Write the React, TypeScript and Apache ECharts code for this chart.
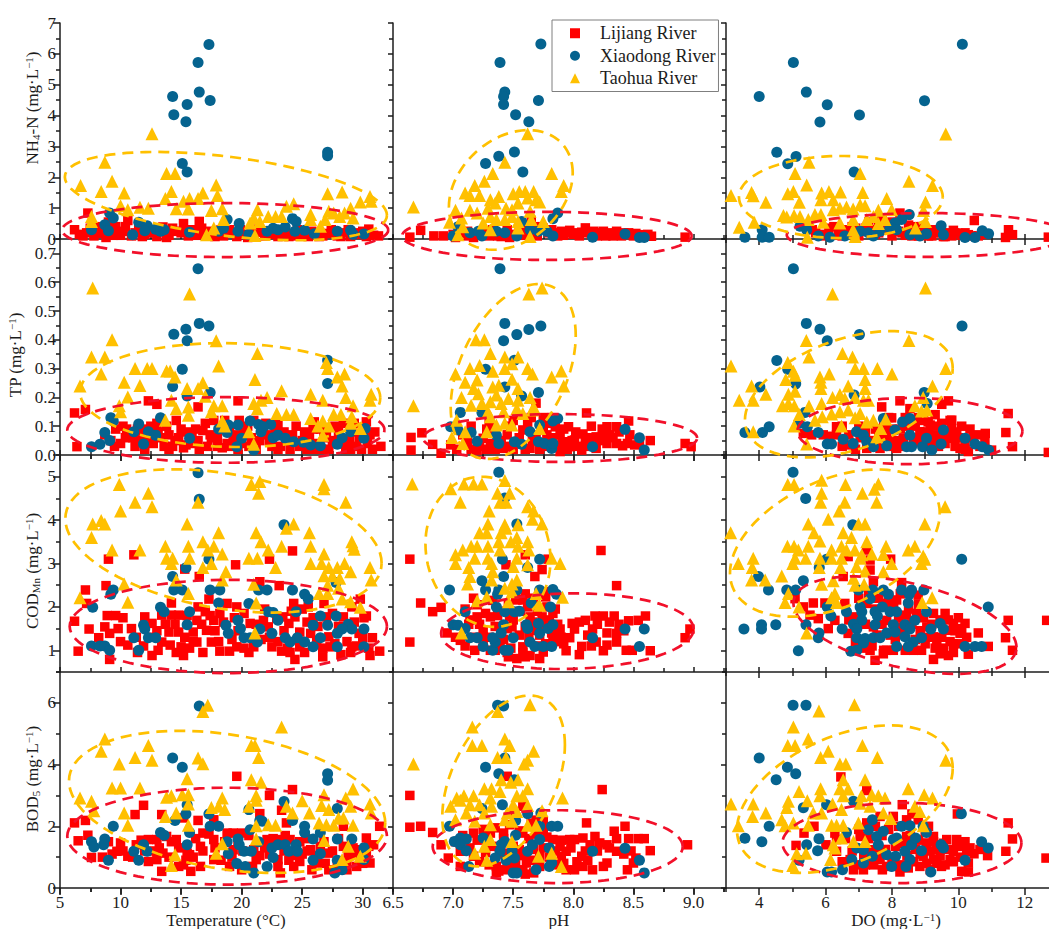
import React, { useEffect, useRef } from "react";
import * as echarts from "echarts";

type P = number[][];
const rivers = ["Lijiang River", "Xiaodong River", "Taohua River"];

const nh4TempRed: P = [[6.2,.3],[6.6,.15],[7.3,.84],[7.2,.2],[7.8,.1],[8.2,.4],[8.5,.18],[9,.55],[9.4,.12],[9.6,.4],[10.2,.25],[10.6,.6],[10.9,.1],[11.5,.3],[12,.15],[12.6,.2],[13,.08],[13.5,.39],[14,.12],[14.5,.25],[15.2,.5],[15.6,.1],[16,.3],[16.5,.57],[16.9,.15],[17.4,.1],[18,.2],[18.5,.1],[19,.3],[19.6,.08],[20.2,.15],[20.8,.25],[21.4,.32],[21.9,.1],[22.4,.15],[23,.08],[23.6,.2],[24.2,.1],[24.9,.15],[25.5,.08],[26.1,.2],[26.7,.1],[27.4,.3],[27.9,.1],[28.5,.2],[29,.08],[29.6,.15],[30.5,.32],[31.3,.1],[30.9,.12],[6.9,.1],[7.5,.35],[8,.25],[8.8,.05],[9.2,.3],[10,.12],[10.4,.4],[11.2,.2],[11.8,.08],[12.3,.3],[13.2,.25],[13.8,.05],[14.3,.35],[15,.2],[15.4,.3],[16.2,.12],[16.7,.35],[17.2,.25],[17.8,.08],[18.3,.3],[18.8,.2],[19.4,.2],[19.9,.3],[20.5,.05],[21,.1],[21.7,.22],[22.7,.25],[23.3,.18],[23.9,.08],[24.6,.3],[25.2,.15],[25.8,.25],[26.4,.08],[27.1,.18],[27.7,.2],[28.2,.08],[28.8,.3],[29.3,.2],[30,.25],[30.3,.08]];
const nh4TempBlue: P = [[17.3,6.3],[16.4,5.72],[16.5,4.76],[17.4,4.49],[14.3,4.62],[15.5,4.36],[14.4,4.03],[15.4,3.8],[15.1,2.45],[15.5,2.17],[27.1,2.81],[27.1,2.7],[9.1,.84],[9.4,.68],[8.7,.46],[9,.27],[7.6,.3],[11,.14],[11.5,.54],[12.2,.43],[12,.27],[12.9,.32],[13.3,.25],[13.6,.3],[15.7,.22],[18.1,.25],[18.8,.63],[18.5,.35],[19.8,.5],[19.7,.25],[20.6,.15],[22.1,.25],[22.6,.35],[23,.3],[23.6,.39],[24.2,.66],[24.5,.57],[24.4,.25],[25.2,.28],[26,.17],[27.9,.25],[29,.28],[29.2,.15],[30.1,.16]];
const nh4TempYellow: P = [[12.6,3.41],[8.7,2.49],[13.8,2.12],[14.5,2.12],[9.3,1.87],[6.7,1.73],[8.4,1.54],[10.3,1.49],[14.2,1.54],[13.7,1.31],[15.7,1.31],[16.8,1.49],[17.9,1.75],[18,1.41],[15.2,1.22],[16.4,1.31],[10,1.08],[10.6,.95],[11.6,1.03],[12.3,1],[14.6,.98],[15.6,.97],[17.5,.92],[18.4,.98],[7.6,.73],[7.6,.57],[18.5,.63],[17.7,.36],[17.1,.14],[21.3,.95],[21,.68],[21.5,.57],[20.7,.52],[22.2,.73],[22.8,.73],[23.3,.73],[23.7,1.06],[24.3,1.14],[25.7,.79],[25.7,.63],[27.1,1.47],[28.3,1.52],[30.6,1.38],[29.8,1.2],[30.7,1.22],[27.2,.9],[27.6,.84],[28.5,.84],[29,1],[29.2,.68],[26.9,.63],[26.5,.41],[28.1,.73],[21.1,.11]];

const nh4PhRed: P = [[6.64,.06],[6.73,.28],[6.84,.1],[6.92,.1],[8.93,.06],[7,.15],[7.1,.1],[7.2,.15],[7.3,.1],[7.4,.08],[7.5,.15],[7.55,.3],[7.6,.12],[7.7,.1],[7.75,.35],[7.8,.2],[7.85,.2],[7.9,.25],[7.95,.2],[8,.15],[8.05,.1],[8.1,.36],[8.15,.14],[8.2,.1],[8.25,.25],[8.3,.2],[8.36,.25],[8.4,.1],[8.46,.2],[8.5,.1],[8.55,.14],[8.65,.09],[7.65,.6],[7.25,.25],[7.65,.45],[7.02,.05],[7.12,.25],[7.17,.05],[7.27,.2],[7.33,.3],[7.37,.1],[7.45,.3],[7.47,.05],[7.57,.2],[7.62,.35],[7.67,.2],[7.72,.4],[7.82,.3],[7.87,.1],[7.92,.12],[7.97,.28],[8.02,.2],[8.07,.22],[8.12,.2],[8.17,.25],[8.22,.2],[8.27,.1],[8.33,.1],[8.42,.2],[8.48,.15],[8.52,.18],[8.58,.1],[8.62,.15]];
const nh4PhBlue: P = [[7.73,6.32],[7.39,5.72],[7.43,4.76],[7.42,4.62],[7.42,4.36],[7.71,4.49],[7.52,4.03],[7.63,3.8],[7.51,2.82],[7.38,2.68],[7.27,2.45],[7.58,2.17],[7.87,.84],[7.83,.66],[7,.1],[7.04,.4],[7.14,.2],[7.21,.25],[7.24,.1],[7.36,.25],[7.43,.2],[7.53,.1],[7.64,.3],[7.71,.25],[7.78,.25],[7.83,.1],[8.16,.06],[8.43,.16],[8.55,.05],[8.59,.05],[7.57,.57]];
const nh4PhYellow: P = [[7.62,3.41],[7.43,2.49],[7.82,2.12],[7.33,2.12],[7.26,1.87],[7.92,1.73],[7.18,1.73],[7.9,1.54],[7.1,1.49],[7.14,1.41],[7.22,1.41],[7.5,1.47],[7.55,1.54],[7.6,1.54],[7.67,1.54],[7.62,1.33],[7.69,1.27],[7.72,1.2],[7.31,1.27],[7.38,1.38],[7.35,1.17],[6.67,1.04],[7.02,.93],[7.14,.93],[7.29,1],[7.44,1],[7.54,1.17],[7.49,.95],[7.64,.9],[7.31,.73],[6.97,.54],[7.07,.68],[7.25,.52],[7.36,.63],[7.43,.63],[7.54,.57],[7.65,.63],[7.75,.57],[7.31,.3],[7.54,.36],[7.08,.4],[7.04,.14],[7.64,.08],[7.2,.84],[7.49,.73]];

const nh4DoRed: P = [[8.24,.84],[10.48,.6],[11.51,.3],[11.63,.14],[11.42,.05],[12.71,.06],[5.6,.3],[5.9,.15],[6.1,.35],[6.4,.25],[6.6,.3],[6.9,.35],[7.2,.35],[7.5,.15],[7.8,.5],[8,.1],[8.2,.25],[8.4,.12],[8.7,.3],[8.9,.2],[9.1,.3],[9.2,.1],[9.4,.25],[9.7,.2],[9.8,.1],[10,.18],[10.1,.12],[10.3,.14],[10.6,.1],[8.5,.45],[7.3,.55],[7.7,.6],[6.4,.12],[7,.1],[8.8,.1],[9.6,.08],[9.9,.2],[5.7,.2],[6,.1],[6.25,.4],[6.5,.1],[6.75,.2],[7.05,.25],[7.35,.3],[7.6,.2],[7.9,.3],[8.1,.4],[8.3,.2],[8.55,.3],[8.6,.1],[8.75,.4],[9,.25],[9.25,.2],[9.3,.3],[9.5,.2],[9.55,.08],[9.85,.28],[10.2,.2],[10.4,.1],[10.8,.15],[7.6,.4],[8,.55],[8.9,.4],[6.8,.4],[9.1,.1]];
const nh4DoBlue: P = [[10.12,6.31],[5.03,5.72],[4,4.62],[5.42,4.76],[6.05,4.35],[8.98,4.48],[7.02,4.02],[5.83,3.79],[4.53,2.81],[5.11,2.67],[4.86,2.44],[6.86,2.17],[3.57,.06],[4.09,.3],[4.09,.06],[4.3,.06],[9.48,.43],[9.55,.14],[10.72,.27],[10.91,.17],[10.2,.05],[10.5,.05],[8.52,.79],[8.29,.63],[8.09,.52],[9.04,.17],[8.84,.1],[8.54,.14],[5.23,.41],[5.43,.3],[5.78,.1],[6.13,.06],[6.58,.1],[7.04,.25],[7.29,.2],[7.64,.25],[7.94,.36],[7.44,.1],[8.14,.3]];
const nh4DoYellow: P = [[9.62,3.4],[5.5,2.49],[7.04,2.12],[5.08,2.12],[8.51,1.87],[9.22,1.73],[5.43,1.75],[3.15,1.41],[3.77,1.51],[3.82,1.4],[4.86,1.47],[5.03,1.54],[4.2,1.19],[5.21,1.19],[5.88,1.49],[5.86,1.27],[6.1,1.54],[6.45,1.52],[7.12,1.51],[6.23,1.27],[7.84,1.31],[9.01,1.2],[4.73,.76],[4.83,.71],[5.05,.76],[5.23,.73],[5.68,.79],[5.86,.79],[6.23,.95],[6.43,1],[6.63,1.04],[6.83,.97],[7.04,1.11],[7.19,1.08],[7.59,.93],[7.99,.95],[8.95,.92],[3.4,.38],[3.85,.54],[5.48,.63],[5.93,.54],[6.43,.52],[6.83,.3],[6.83,.63],[7.24,.63],[7.44,.73],[7.59,.5],[7.79,.63],[8.71,.36],[9.01,.57],[5.45,.06],[6.89,.08]];

const tpTempRed: P = [[6.2,.146],[7.1,.158],[6.4,.029],[12.3,.188],[13,.176],[16.4,.167],[19.7,.188],[8.7,.07],[9.2,.05],[9.6,.09],[10,.04],[10.4,.06],[10.8,.08],[11.2,.03],[11.7,.06],[12.2,.05],[12.7,.04],[13.1,.08],[13.6,.03],[14,.07],[14.5,.05],[15,.09],[15.4,.035],[15.9,.07],[16.4,.05],[16.8,.085],[17.2,.03],[17.7,.12],[18,.06],[18.4,.025],[18.8,.04],[19.3,.05],[19.8,.12],[20.2,.08],[20.6,.03],[21,.12],[21.5,.05],[22,.11],[22.5,.03],[23,.11],[23.5,.08],[24,.02],[24.5,.1],[25,.05],[25.4,.02],[25.9,.09],[26.3,.04],[26.8,.06],[27.2,.02],[27.7,.1],[28.2,.05],[28.6,.02],[29.1,.08],[29.5,.03],[30,.09],[30.4,.04],[31.5,.03],[30.8,.02],[12,.09],[13.3,.06],[14.8,.06],[16,.04],[17.5,.06],[19,.09],[20.8,.06],[22.2,.07],[23.7,.05],[25.2,.08],[26.5,.09],[28,.08],[29.7,.06],[11,.06],[15.5,.08],[9.5,.03],[10.5,.09],[11.4,.09],[12.5,.1],[13.8,.1],[14.3,.03],[15.2,.025],[16.2,.09],[17,.11],[17.4,.07],[18.2,.09],[19,.03],[19.5,.07],[20.5,.1],[21.2,.02],[21.8,.08],[22.8,.08],[23.2,.03],[24.2,.07],[24.8,.03],[25.6,.06],[26,.115],[26.6,.02],[27,.08],[27.5,.05],[28.4,.11],[28.9,.05],[29.3,.11],[29.9,.02],[30.6,.07],[31,.08],[10.2,.1],[13,.11],[14.6,.12],[18.6,.12],[20,.04],[22.3,.05],[12,.02],[14,.02],[16.5,.02],[18,.03],[19.7,.02],[23,.02],[26,.02],[29,.02],[30.3,.115]];
const tpTempBlue: P = [[16.4,.647],[16.5,.457],[17.3,.448],[15.4,.437],[14.4,.419],[15.5,.397],[15.1,.298],[14.3,.238],[17.4,.217],[27.1,.329],[27.1,.248],[15.5,.205],[9.2,.129],[9.4,.118],[11.5,.108],[13.3,.129],[7.6,.029],[8.3,.037],[8.7,.078],[9.1,.05],[11.1,.081],[12.3,.081],[12.9,.069],[11.9,.038],[15.7,.058],[18.1,.09],[18.9,.104],[18.8,.078],[19.7,.104],[20.7,.118],[20,.058],[19.6,.029],[21,.017],[21.4,.106],[21.6,.081],[22.4,.106],[21.8,.098],[22.6,.06],[23,.069],[23.6,.058],[24.3,.046],[25.1,.044],[25.7,.035],[26.5,.032],[27.9,.037],[28.3,.06],[29,.081],[30.1,.058],[30.2,.092]];
const tpTempYellow: P = [[7.7,.58],[15.7,.559],[9.3,.4],[17.9,.397],[7.6,.34],[8.7,.34],[21.3,.352],[18.1,.309],[8.4,.281],[11.2,.3],[12.2,.3],[12.6,.3],[13.8,.292],[14.1,.292],[14.5,.271],[6.65,.24],[10.3,.253],[11.6,.241],[15.5,.231],[16.4,.231],[16.8,.251],[21.1,.262],[27,.321],[27.1,.3],[28.5,.281],[27.9,.271],[28.3,.24],[23.3,.223],[25.7,.211],[30.7,.211],[10.6,.201],[17,.204],[14.2,.19],[22.1,.2],[21.6,.19],[28.6,.2],[26.7,.19],[30.6,.19],[9.9,.171],[21,.179],[14.6,.161],[15.6,.167],[17.7,.171],[18.4,.171],[29.2,.171],[10,.15],[15.6,.138],[17.5,.15],[21.3,.161],[22.9,.144],[23.7,.141],[24.3,.141],[25.7,.127],[27.6,.141],[28.2,.141],[29.1,.133],[13.7,.121],[18.4,.118],[18.6,.101],[26.7,.118],[26.3,.101],[27.2,.101],[29,.11],[29.8,.092],[20.6,.081],[26.7,.069],[21,.037]];

const tpPhRed: P = [[6.65,.061],[6.65,.017],[6.74,.077],[6.83,.037],[6.9,.006],[6.98,.035],[8.11,.146],[8.46,.118],[7.96,.098],[8.93,.04],[8.98,.029],[8.64,.05],[8.36,.098],[8.28,.098],[8.08,.073],[8.25,.069],[8.19,.063],[8.28,.04],[8.36,.04],[8.41,.032],[8.51,.035],[7.97,.029],[8.07,.017],[7.94,.046],[8.01,.052],[7.89,.069],[7.85,.098],[7.79,.127],[7.2,.017],[7.31,.04],[7.42,.023],[7.58,.087],[7.69,.069],[7.89,.012],[7.12,.046],[7.45,.07],[7.25,.058],[7.64,.023],[7.78,.07],[8.19,.023],[7.69,.18],[8.55,.04],[8.3,.07],[7.03,.02],[7.08,.07],[7.15,.02],[7.15,.1],[7.22,.03],[7.28,.02],[7.28,.09],[7.35,.02],[7.35,.08],[7.4,.05],[7.45,.03],[7.48,.1],[7.5,.02],[7.55,.06],[7.6,.02],[7.62,.11],[7.66,.05],[7.72,.02],[7.75,.09],[7.78,.03],[7.82,.06],[7.85,.035],[7.91,.04],[7.99,.05],[8.03,.03],[8.1,.03],[8.14,.06],[8.15,.1],[8.22,.05],[8.24,.09],[8.33,.06],[8.38,.08],[8.45,.04],[8.47,.07],[8.02,.08],[7.92,.09],[7.75,.13],[7.8,.11],[7.65,.13],[7.95,.02],[8.1,.05],[7.5,.12],[7.3,.11]];
const tpPhBlue: P = [[7.39,.647],[7.43,.457],[7.73,.448],[7.63,.436],[7.53,.418],[7.42,.397],[7.51,.329],[7.27,.298],[7.43,.236],[7.71,.217],[7.57,.205],[7.06,.148],[7.87,.127],[7.83,.118],[6.98,.098],[7.04,.087],[7.15,.078],[7.2,.048],[7.64,.081],[7.72,.104],[7.36,.069],[7.38,.04],[7.51,.046],[7.57,.037],[7.71,.046],[7.76,.04],[7.82,.023],[7.83,.04],[8.16,.029],[8.43,.089],[8.55,.06],[8.59,.017],[7.24,.148]];
const tpPhYellow: P = [[7.63,.559],[7.74,.58],[7.19,.4],[7.26,.4],[7.31,.352],[7.43,.34],[7.54,.34],[7.9,.292],[7.82,.271],[7.02,.281],[7.14,.3],[7.22,.311],[7.33,.291],[7.43,.3],[7.49,.317],[7.62,.3],[7.66,.281],[6.67,.171],[7.1,.253],[7.2,.26],[7.92,.24],[7.49,.263],[7.38,.242],[7.17,.231],[7.33,.236],[7.54,.231],[7.21,.213],[7.07,.2],[7.36,.208],[7.46,.196],[7.64,.2],[7.15,.173],[7.24,.179],[7.31,.185],[7.4,.179],[7.54,.19],[7.67,.167],[7.53,.161],[7.29,.15],[7.42,.15],[7.58,.144],[7.03,.121],[7.36,.104],[7.43,.11],[7.49,.104],[7.31,.133],[7.72,.092],[7.28,.081],[7.1,.081],[6.99,.061],[7.08,.04],[7.66,.156]];

const tpDoRed: P = [[11.5,.144],[11.43,.078],[11.63,.029],[12.71,.009],[10.81,.075],[10.35,.09],[9.8,.121],[8.24,.188],[9.5,.176],[9.7,.188],[7.69,.167],[8.54,.161],[7.99,.129],[9.15,.104],[9.8,.092],[9.85,.058],[10.05,.023],[10.3,.012],[9.35,.069],[8.84,.081],[8.34,.058],[7.84,.069],[7.64,.023],[8.14,.023],[7.24,.023],[6.74,.035],[6.33,.07],[6.33,.098],[5.93,.07],[5.58,.07],[5.33,.075],[6.12,.065],[7.04,.06],[7.54,.03],[7.94,.03],[8.74,.046],[9.15,.04],[9.6,.04],[9.95,.08],[10.2,.02],[10.8,.046],[11,.017],[9.09,.115],[6.5,.03],[6.5,.1],[6.7,.07],[6.9,.02],[7,.1],[7.2,.08],[7.35,.05],[7.5,.09],[7.6,.06],[7.75,.1],[7.9,.05],[8,.09],[8.15,.05],[8.25,.09],[8.4,.03],[8.5,.1],[8.65,.06],[8.7,.1],[8.85,.05],[8.95,.12],[9.05,.03],[9.1,.08],[9.25,.06],[9.3,.1],[9.4,.03],[9.5,.11],[9.55,.06],[9.7,.07],[9.75,.12],[9.9,.03],[10,.06],[10.1,.1],[10.2,.04],[10.45,.06],[10.6,.07],[10.65,.03],[7.9,.13],[8.4,.13],[8.8,.13],[9.3,.14]];
const tpDoBlue: P = [[5.03,.647],[5.42,.457],[5.83,.437],[7.02,.418],[6.05,.397],[10.11,.448],[4.53,.328],[4.86,.298],[4.02,.236],[5.1,.247],[6.86,.208],[8.97,.217],[9.06,.179],[5.38,.148],[3.57,.078],[4.1,.078],[4.3,.098],[5.21,.11],[5.45,.098],[5.78,.078],[6.05,.038],[6.18,.038],[6.53,.055],[6.83,.04],[6.93,.081],[7.14,.069],[7.24,.046],[7.44,.029],[7.74,.127],[7.84,.032],[8.09,.087],[8.32,.115],[8.54,.127],[8.54,.069],[8.44,.029],[8.59,.029],[8.92,.029],[9.04,.058],[9.2,.017],[9.48,.038],[9.55,.087],[10.2,.058],[10.5,.038],[10.72,.029],[10.91,.017]];
const tpDoYellow: P = [[3.15,.309],[9.01,.58],[6.21,.559],[5.42,.398],[8.51,.398],[6.51,.352],[6.81,.34],[5.5,.34],[4.86,.321],[6.89,.3],[7.14,.3],[7.56,.3],[9.62,.3],[8,.281],[6.11,.281],[5.03,.291],[5.08,.277],[5.83,.271],[4.8,.262],[7.19,.262],[5.86,.253],[3.77,.24],[6.68,.24],[9.22,.24],[5.86,.231],[7.19,.231],[5.08,.221],[4.88,.211],[4.2,.211],[3.4,.19],[3.82,.19],[6.21,.2],[6.89,.2],[6.43,.21],[6.58,.196],[7.14,.19],[7.29,.19],[8.94,.2],[4.7,.171],[4.88,.179],[5.06,.171],[5.5,.17],[5.88,.179],[8.69,.171],[9.05,.156],[8.89,.153],[5.21,.141],[5.68,.121],[5.9,.133],[6.18,.142],[6.43,.15],[6.68,.156],[6.89,.129],[7.04,.144],[7.24,.115],[7.44,.121],[7.81,.125],[7.66,.092],[7.54,.063],[6.48,.101],[5.05,.101],[3.82,.081],[5.43,.038]];

const codTempRed: P = [[9,3.1],[11.1,3.2],[24.2,3.29],[22.3,3.1],[19.5,2.97],[15.3,2.87],[16.5,2.7],[8.8,2.49],[7.1,2.39],[21.5,2.58],[23.1,2.49],[7.2,2.08],[14.2,2.09],[17.3,2.18],[29.8,2.18],[6.2,1.67],[7.4,1.49],[6.5,.98],[8.2,1.29],[31.4,.98],[30.6,.88],[24.4,.79],[9.1,.79],[12.6,.88],[15.2,.88],[18.2,.98],[19,.98],[23.3,.98],[8.9,1.8],[9.6,1.8],[8.7,1.54],[9.1,1.39],[9.8,1.5],[10.9,1.5],[10.6,1.12],[12,1.77],[12.6,1.62],[13.4,1.81],[14,1.42],[13.4,1.19],[14.2,1.81],[14.8,1.81],[14.8,1.42],[14.1,1.12],[15,1.08],[16,1.42],[16.3,1.19],[16.3,1.69],[17,1.89],[17.7,1.69],[17.5,1.19],[17.1,1.46],[16.4,2],[18.8,2.08],[18.2,1.85],[19.6,2],[20.2,1.85],[20.7,1.62],[21.8,1.69],[22.2,1.54],[21,1.08],[22.5,1.08],[23.4,1.77],[23.9,1.62],[24.4,1.77],[24.8,1.42],[25.5,2],[24.3,2.08],[25.4,1.65],[25.7,1.39],[26.8,2.08],[27,1.77],[27.2,1.31],[28.4,1.77],[29.1,2],[30.3,1.79],[29.7,1.39],[30.8,1.29],[29.1,1.08],[27.3,1.08],[24.8,1.08],[26.2,1.23],[19.6,1.08],[16,1.2],[10,1.2],[10.2,1.75],[11.3,1.3],[11.4,.95],[11.9,1.1],[12.4,1.3],[13,1.45],[13.1,1],[13.7,1.6],[14.5,1.6],[14.6,.95],[15.3,1.3],[15.5,1.8],[15.7,1.05],[16.7,1.6],[16.8,.95],[17.4,1.8],[17.8,1.45],[18.1,1.2],[18.5,1.65],[19.2,1.25],[19.4,1.75],[19.7,1.45],[20.2,1.05],[20.6,.95],[21.2,1.6],[21.6,1.25],[21.9,1.95],[22.3,1.3],[22.9,1.75],[23,1.2],[23.5,1.45],[23.8,1.05],[24.1,1.9],[25,1.95],[25.2,.95],[25.9,1.75],[26.3,1.55],[26.7,1.05],[27.5,1.85],[27.7,1.15],[28,1.55],[28.7,1.2],[29.3,1.65],[29.5,1.1],[30,1.3],[30.1,1.75],[30.5,1.05],[29,.95],[28.2,.9],[26.7,.85],[24,.95]];
const codTempBlue: P = [[16.4,5.09],[16.5,4.48],[23.5,3.89],[17.3,3.1],[15.4,2.9],[14.3,2.7],[27.8,2.56],[9.4,2.39],[9.2,2.29],[14.4,2.39],[15.1,2.39],[17.4,2.39],[18.2,2.39],[21.4,2.39],[22.1,2.39],[24.2,2.39],[25.2,2.29],[25.5,2.18],[7.7,1.99],[13.3,1.99],[13.6,1.89],[18.1,2.09],[20.6,2.08],[15.7,1.89],[22.2,1.89],[22.6,1.87],[24.5,1.89],[26.5,1.79],[27.8,1.79],[23,1.69],[11.9,1.58],[12,1.49],[15.5,1.59],[18.7,1.58],[18.9,1.39],[19.7,1.69],[19.9,1.5],[21.5,1.49],[22.5,1.39],[25.9,1.58],[27.1,1.58],[28.8,1.6],[29.1,1.49],[30.1,1.49],[28.3,1.49],[27.9,1.39],[11.1,1.29],[12.3,1.29],[12.9,1.29],[20.2,1.29],[20.7,1.29],[23.6,1.29],[24.6,1.29],[26.5,1.29],[24,1.19],[25.2,1.19],[21.3,1.19],[7.6,1.1],[8.3,1.1],[8.7,1.1],[9.1,1],[11.5,1],[25.9,1.08],[27.9,1.08],[30.1,1.08]];
const codTempYellow: P = [[9.9,4.82],[12.3,4.62],[11.2,4.41],[12.6,4.31],[10,4.21],[16.4,4.41],[20.8,4.82],[21.5,4.89],[21.4,4.62],[26.8,4.82],[26.8,4.72],[28.6,4.41],[7.7,3.91],[8.4,3.99],[8.7,3.91],[7.6,3.6],[15.5,3.91],[18.1,3.71],[21.2,3.71],[21.6,3.5],[23.7,3.81],[24.3,3.91],[25.6,3.71],[29.1,3.5],[29.2,3.41],[29.3,3.33],[9.3,3.31],[11.6,3.31],[13.7,3.4],[15.6,3.4],[16.8,3.5],[17.7,3.4],[17.2,3.31],[22.2,3.31],[23.3,3.4],[25.7,3.4],[26.8,3.22],[13.8,3.12],[14.3,3.12],[15.7,3.12],[18.4,3.22],[20.6,3.12],[21.3,3.12],[14.2,3],[17.5,3],[16.8,2.91],[22.8,2.91],[25.7,3],[26.6,3],[28.5,3],[27.2,2.91],[27.9,2.91],[30.6,2.91],[18.7,2.81],[29,2.81],[26.8,2.72],[27.5,2.72],[28.1,2.66],[30.7,2.62],[14.6,2.62],[18.4,2.62],[10.3,2.53],[21,2.52],[27.1,2.5],[28,2.43],[26.4,2.31],[27.1,2.31],[15.6,2.31],[6.65,2.21],[10.6,2.11],[28.3,2.18],[29,2.12],[29.8,1.99],[21.2,2.09],[21.1,1.4]];

const codPhRed: P = [[6.64,3.1],[6.64,1.19],[6.73,2.09],[6.83,1.89],[6.9,1.99],[8.23,3.3],[8.36,2.49],[7.94,.99],[8.05,.9],[8.64,.99],[8.97,1.49],[8.93,1.29],[6.95,1.4],[8.6,1.79],[8.54,1.69],[8.46,1.68],[8.34,1.79],[8.18,1.79],[8.25,1.79],[8.1,1.69],[7.99,1.62],[8.01,1.49],[8.16,1.49],[8.28,1.4],[8.36,1.39],[8.19,1.19],[8.28,1.12],[8.25,.99],[8.44,1],[8.49,1],[8.36,1.19],[8.07,1.09],[7.97,1.29],[7.89,1.49],[7.68,2.7],[7.74,2.86],[7.6,3.2],[7.44,2.97],[7.79,3.1],[7.17,2.2],[7.58,2.16],[7.77,2.23],[7.83,1.85],[7.2,1.77],[7.31,1.77],[7.47,1.77],[7.64,1.77],[7.74,1.77],[7.25,1.46],[7.49,1.54],[7.69,1.46],[7.06,1.23],[7.18,1],[7.46,.85],[7.53,.81],[7.64,.88],[7.72,.81],[7.75,.96],[7.58,1.08],[7.39,1.23],[7.31,1],[7.25,1.31],[7.83,1.31],[7.53,2.16],[7.1,1.95],[7.14,1.7],[7.02,1.3],[7.1,1.1],[7.13,1.6],[7.17,1.3],[7.2,2.05],[7.22,1.6],[7.25,1.1],[7.27,1.85],[7.3,1.3],[7.33,2.15],[7.35,1.55],[7.37,1.8],[7.38,1.05],[7.4,1.9],[7.42,1.25],[7.45,1.5],[7.46,2.05],[7.48,1.05],[7.5,1.7],[7.52,2.25],[7.55,1.35],[7.56,1.9],[7.58,.95],[7.6,1.55],[7.62,2],[7.63,1.3],[7.66,1.65],[7.67,2.2],[7.7,1.1],[7.7,1.9],[7.72,1.35],[7.75,1.6],[7.77,1.15],[7.78,2],[7.8,1.7],[7.82,1.4],[7.85,1.2],[7.87,1.6],[7.9,1.3],[7.92,1.15],[7.85,1.95],[7.75,2.35],[7.6,2.3],[7.35,1],[7.45,.95],[7.6,.85],[8.05,1.65],[8.2,1.6],[8.3,1.65],[8.42,1.45],[8.38,1.6],[8.15,1.1],[8.12,1.35]];
const codPhBlue: P = [[7.38,5.1],[7.43,4.51],[7.53,3.91],[7.41,3.1],[7.72,3.1],[7.62,2.91],[7.42,2.7],[7.24,2.6],[6.97,2.39],[7.27,2.39],[7.38,2.39],[7.53,2.39],[7.72,2.39],[7.83,2.4],[7.86,2.29],[7.37,2.29],[7.81,2],[7.36,2],[7.43,1.89],[7.51,1.89],[7.55,1.9],[7.65,2.09],[7.1,1.89],[7,1.59],[7.04,1.58],[7.1,1.5],[7.14,1.29],[7.2,1.29],[7.25,1.09],[7.33,1],[7.35,1.19],[7.33,1.29],[7.4,1.4],[7.42,1.59],[7.43,1],[7.46,1],[7.5,1.29],[7.61,1.59],[7.64,1.19],[7.68,1.09],[7.62,1.5],[7.71,1.62],[7.72,1.39],[7.75,1.09],[7.82,1.09],[7.79,1.5],[7.83,1.59],[8.16,1.29],[8.43,1.49],[8.59,1.49],[8.55,1.09]];
const codPhYellow: P = [[6.66,4.83],[7.09,4.83],[7.17,4.83],[7.24,4.83],[6.98,4.72],[7.43,4.91],[7.37,4.62],[7.47,4.62],[7.39,4.41],[7.44,4.41],[7.06,4.41],[7.62,4.31],[7.67,4.21],[7.3,4.21],[7.66,4.02],[7.74,3.91],[7.29,3.91],[7.43,3.89],[7.54,3.89],[7.22,3.71],[7.28,3.71],[7.4,3.71],[7.44,3.81],[7.53,3.6],[7.38,3.5],[7.48,3.5],[7.62,3.5],[7.15,3.4],[7.2,3.4],[7.29,3.4],[7.54,3.4],[7.39,3.31],[7.63,3.31],[7.08,3.31],[7.02,3.2],[7.18,3.12],[7.29,3.12],[7.53,3.12],[7.82,3.12],[7.02,3],[7.32,3],[7.89,3],[7.62,2.97],[7.5,2.93],[7.13,2.91],[7.33,2.81],[7.14,2.7],[7.32,2.62],[7.53,2.62],[7.12,2.53],[7.49,2.53],[7.43,2.43],[7.49,2.35],[7.28,2.23],[7.2,2.14],[7.46,2.12],[7.69,2.31],[7.91,2.22],[7.72,2.04],[7.07,1.4]];

const codDoRed: P = [[12.66,1.69],[11.5,1.69],[11.42,1.29],[11.63,1],[10.6,1.4],[10.9,1.09],[10.3,.91],[9.25,.79],[7.49,.77],[5.33,2],[5.63,2.09],[5.08,2.19],[5.98,2.09],[5.53,1.81],[5.78,1.73],[6.28,1.69],[6.08,1.5],[6.53,2.7],[6.68,3.16],[7.24,3.31],[7.34,3.08],[7.96,3.1],[7.34,2.85],[7.44,2.58],[8.29,2.56],[8.79,2.27],[8.14,2.16],[7.84,2.08],[7.24,2.08],[6.58,2.08],[6.84,1.77],[6.68,1.39],[7.34,1],[7.74,.92],[7.44,1.54],[7.84,1],[8.14,1.54],[8.74,1.85],[9.25,1.85],[9.6,1.85],[9.85,1.62],[10.2,1.62],[10.05,1.39],[8.89,1],[9.35,1.19],[9.45,.92],[9.7,.88],[9.05,1.54],[9.65,1.46],[9.85,1.15],[9.25,1.31],[8.04,1],[8.44,1.81],[7.84,1.69],[6.7,1.7],[6.9,1.2],[7,2.2],[7.1,1.05],[7.2,1.6],[7.3,2.3],[7.4,1.1],[7.5,1.95],[7.55,1.35],[7.6,2.2],[7.7,1.6],[7.75,1],[7.9,2.25],[7.95,1.35],[8.05,2.05],[8.1,1.25],[8.2,1.75],[8.25,2.3],[8.35,1.4],[8.4,1],[8.5,1.95],[8.6,1.6],[8.65,1],[8.7,1.25],[8.8,2.05],[8.85,1.45],[8.95,1.75],[9,1.15],[9.1,1.3],[9.2,1.6],[9.3,1.05],[9.45,1.7],[9.5,1.3],[9.55,1.05],[9.7,1.7],[9.75,1.2],[9.9,1.45],[10,1.75],[10,1.15],[10.1,1.5],[10.25,1.3],[9.85,.95]];
const codDoBlue: P = [[5.02,5.1],[5.4,4.5],[6.82,3.89],[10.1,3.1],[6.03,3.1],[5.81,2.91],[3.98,2.7],[5.33,2.6],[4.28,2.39],[4.83,2.39],[5.1,2.39],[6.99,2.39],[7.42,2.39],[7.74,2.39],[8.29,2.39],[8.59,2.39],[8.96,2.39],[7.89,2.29],[8.52,2.29],[7.34,2.19],[8.49,2.09],[10.9,2],[6.05,2],[7.04,2],[7.71,2],[6.63,1.89],[7.09,1.89],[7.49,1.89],[7.94,1.89],[8.14,1.89],[9.04,1.89],[6.16,1.79],[7.56,1.79],[7.09,1.69],[8.69,1.69],[5.41,1.59],[6.84,1.6],[7.49,1.59],[8.04,1.59],[8.39,1.59],[9.45,1.62],[3.54,1.49],[4.07,1.59],[4.07,1.49],[4.5,1.59],[6.5,1.49],[6.94,1.49],[7.84,1.4],[8.09,1.42],[8.54,1.49],[9.17,1.49],[9.55,1.49],[5.8,1.4],[5.78,1.29],[6.94,1.29],[7.19,1.27],[7.44,1.29],[7.64,1.29],[8.39,1.31],[8.89,1.29],[8.64,1.19],[7.14,1.17],[8.14,1.09],[8.49,1.09],[10.2,1.09],[10.5,1.09],[10.7,1.09],[6.76,.98],[6.94,1],[5.18,.99]];
const codDoYellow: P = [[3.14,3.71],[4.86,4.82],[5.05,4.82],[5.88,4.92],[6.6,4.82],[7.59,4.83],[7.47,4.71],[5.88,4.62],[7.11,4.62],[5.85,4.41],[6.58,4.41],[7.54,4.41],[6.41,4.21],[9.6,4.31],[6.08,4.02],[5.48,3.91],[6.99,3.91],[7.19,3.91],[8.99,3.91],[5.65,3.71],[6.53,3.71],[6.78,3.6],[5.83,3.52],[7.24,3.5],[4.85,3.4],[5.05,3.4],[5.48,3.4],[6.48,3.4],[7.82,3.4],[8.69,3.4],[6.18,3.31],[5.18,3.31],[6.63,3.31],[6.88,3.31],[8.49,3.31],[7.39,3.22],[7.09,3.2],[7.74,3.21],[8.94,3.17],[3.82,3.12],[5.08,3.12],[5.4,3.12],[5.83,3.12],[6.18,3.12],[6.48,3.12],[7.04,3.12],[8.99,3.1],[3.37,3],[5.01,3],[7.99,3],[8.89,3],[3.79,2.91],[5.81,2.91],[6.45,2.91],[6.93,2.93],[7.19,2.83],[7.74,2.81],[4.68,2.71],[3.77,2.62],[4.18,2.62],[6.23,2.6],[6.84,2.66],[5.88,2.52],[6.89,2.5],[7.16,2.52],[4.88,2.31],[6.28,2.31],[6.18,2.21],[9.21,2.21],[4.78,2.1],[6.33,2.1],[8.91,2.1],[5.2,2],[5.43,1.4]];

const bodTempRed: P = [[19.6,3.62],[24.2,3.19],[22.3,3],[11.9,2.68],[11.2,2.38],[23.3,2.52],[7.1,2.19],[6.2,2.11],[13.4,2.38],[16.4,2.19],[17.7,2.21],[21.5,2.41],[23.7,2.11],[31.4,2],[15.2,2.27],[7.3,1.71],[6.5,1.53],[28.4,2],[30.3,1.62],[7.6,.99],[9.7,1.19],[10.6,1.03],[10,1.46],[12.3,1.57],[11.3,1.4],[13,1.57],[13.8,1.67],[14.6,1.57],[12.3,.86],[13,.92],[13.4,.54],[14.8,.7],[15.8,.54],[15.7,1.08],[16.6,1.35],[16.8,1.78],[17.7,1.57],[16.6,.7],[17.7,.92],[18.8,1.78],[19.3,1.78],[20,1.78],[19,.7],[20,.59],[21.2,.92],[22.1,1.57],[23.2,1.57],[23.2,.49],[23,.92],[24,1.57],[24.3,.7],[24.8,.86],[25.8,.59],[25.7,1.24],[26.5,1.35],[27.2,.59],[27.2,1.13],[28.4,1.35],[28.7,.59],[29.5,.7],[30.6,.81],[30.9,1.4],[29.8,1.24],[28.7,.86],[21,1.24],[13.5,1.13],[15.5,1.13],[19.3,1.24],[26.2,.81],[8.5,1],[9,1.5],[9.3,1.1],[10.2,1.2],[11,1],[11.7,1.55],[12,1.2],[12.8,1.2],[13.2,1.3],[14,1],[14.2,1.5],[14.8,1.3],[15.2,.75],[16,1],[16.2,1.6],[16.8,1.2],[17.3,1.75],[17.8,1.3],[18.3,.9],[18.6,1.5],[19.2,1],[19.7,1.5],[20.1,1.2],[20.6,1.7],[20.9,.7],[21.5,1.05],[21.9,1.3],[22.3,1.1],[22.6,1.6],[23,.7],[23.5,1.2],[23.9,.9],[24.5,1.05],[24.8,1.5],[25,1.1],[25.4,1.2],[26.1,1.05],[26.8,1.5],[26.9,.8],[27.5,1.2],[27.9,.7],[28,1.6],[28.8,1.05],[29.2,1.3],[29.5,1.1],[30,.8],[30.3,1.1],[30.5,1.35],[15.4,.9],[23.6,1.7],[25.3,1.6]];
const bodTempBlue: P = [[16.5,5.9],[14.3,4.21],[15.1,3.91],[27.1,3.7],[27.1,3.49],[23.5,2.8],[15.5,2.7],[15.4,2.4],[27.9,2.58],[17.3,2.4],[20.6,2.54],[14.5,2.19],[21.5,2.19],[21.7,2.16],[24.2,2.19],[25.2,2],[17.4,2],[18.1,2],[9.4,2],[13.3,1.8],[13.6,1.71],[15.7,1.8],[20.7,1.89],[25.2,1.8],[26.5,1.8],[25.9,1.59],[27.9,1.59],[29.1,1.59],[8.7,1.59],[7.6,1.5],[8.6,1.4],[7.8,1.33],[11.9,1.4],[15.5,1.4],[18.8,1.5],[19.7,1.59],[19.8,1.4],[11.1,1.19],[12.2,1.19],[21.4,1.5],[22.5,1.3],[23,1.4],[23.6,1.4],[23.9,1.19],[24.5,1.4],[24.6,1.19],[18.9,1.11],[20.2,1.19],[20.8,1.19],[22.6,.99],[26.5,1.11],[30.1,1.3],[11.5,.9],[9,.9],[25.9,.9],[27.9,.9],[30.1,.92],[19.6,.79],[20.3,.7],[22.1,.7],[21,.49],[27.7,.49],[28.3,.59]];
const bodTempYellow: P = [[17.2,5.92],[16.8,5.72],[23.3,5.22],[8.7,4.83],[8.4,4.43],[12.3,4.62],[16.4,4.21],[11.2,4.23],[12.6,4.14],[16.8,4.03],[9.9,4.02],[20.8,4.62],[21.1,4.62],[21.4,4.23],[15.5,3.54],[9.3,3.24],[10,3.24],[11.6,3.24],[20.8,3.51],[21.6,3.43],[29.2,3.21],[14.2,2.99],[13.8,2.94],[15.1,3.02],[15.6,3.02],[6.65,2.92],[7.6,2.81],[18.4,2.92],[21.2,2.99],[21.2,2.84],[26.8,3.02],[25,2.83],[28.6,2.92],[15.6,2.72],[17.5,2.61],[18.1,2.65],[20.6,2.65],[23.7,2.65],[26.6,2.67],[29,2.65],[30.6,2.72],[7.8,2.5],[18.6,2.54],[27.2,2.54],[10.3,2.43],[14.6,2.43],[13.7,2.32],[24.2,2.43],[25.6,2.43],[30.7,2.43],[28,2.27],[28.4,2.27],[26.4,2.11],[27,2.05],[10.6,2.03],[15.6,2.03],[21.2,2.02],[22.2,2.05],[22.8,2.03],[27.6,2.03],[29.2,2.03],[21.2,1.59],[26.8,1.54],[18.4,1.43],[28.8,1.35],[14.5,1.08],[17.9,1.13],[29.8,1.03],[28.3,.92],[14.2,.73]];

const bodPhRed: P = [[6.64,3],[6.64,1.97],[6.73,2],[6.83,1.8],[8.24,3.19],[7.45,3.62],[8.11,2.11],[6.9,1.4],[6.96,.97],[7.06,.7],[8.95,1.4],[8.64,1.21],[8.59,1.6],[8.54,1.6],[8.43,2],[8.34,1.84],[8.46,1.6],[8.18,1.67],[8.28,1.4],[8.22,1.46],[8.08,1.62],[8.14,1.4],[7.97,1.57],[8.01,1.57],[8.25,.7],[8.28,.81],[8.16,.59],[8.45,.59],[8.5,.81],[8.52,.97],[8.36,1.19],[8.07,1.03],[8.01,.59],[7.94,.59],[7.94,1.19],[7.9,1.03],[7.83,1.57],[7.36,.49],[7.42,.59],[7.36,.7],[7.58,.59],[7.67,.49],[7.58,2.65],[7.69,2.2],[7.58,1.78],[7.75,1.89],[7.17,1.78],[7.31,1.78],[7.42,1.78],[7.17,1.03],[7.28,1.46],[7.55,1.24],[7.61,.81],[7.72,1.03],[7.89,1.35],[7.06,1.19],[7.45,1.13],[7.02,1.5],[7.08,1.7],[7.14,1.3],[7.2,1.55],[7.22,.85],[7.25,1.9],[7.27,1.15],[7.3,.75],[7.33,1.35],[7.35,1.95],[7.38,.55],[7.4,1.1],[7.42,1.6],[7.45,.7],[7.47,2.05],[7.5,1.35],[7.52,.75],[7.55,1.85],[7.58,1.05],[7.6,.45],[7.63,1.6],[7.65,.9],[7.67,1.25],[7.7,1.75],[7.72,.7],[7.75,1.3],[7.78,1.65],[7.8,1],[7.85,1.2],[7.87,.75],[7.9,1.55],[7.92,.8],[7.98,1.3],[8.03,.85],[8.1,1.2],[8.12,.9],[8.2,1.2],[8.3,1.3],[8.36,1.6],[8.42,1.1],[8.48,1.2],[8.08,.7],[7.65,2.1],[7.5,2.4],[7.75,2.15]];
const bodPhBlue: P = [[7.37,5.92],[7.42,5.9],[7.43,4.21],[7.27,3.91],[7.38,3.7],[7.51,3.51],[7.41,2.7],[7.24,2.58],[7.62,2.41],[7.73,2.43],[7.52,2.19],[6.97,2],[7.82,2],[7.87,2],[7.72,2],[7.52,1.71],[7.06,1.62],[7.11,1.59],[7.01,1.51],[7.06,1.4],[7.11,1.21],[7.25,1.62],[7.43,1.51],[7.39,1.19],[7.4,1.4],[7.49,1.19],[7.51,.97],[7.44,.9],[7.35,.97],[7.62,1.19],[7.66,1.4],[7.72,1.57],[7.8,1.3],[7.82,.81],[7.8,.7],[7.69,.59],[7.13,.7],[7.5,.49],[7.53,.49],[8.16,1.19],[8.43,1.29],[8.55,.9],[8.59,.49]];
const bodPhYellow: P = [[7.64,5.94],[7.37,5.72],[7.16,5.22],[7.43,4.83],[7.16,4.62],[7.24,4.62],[7.47,4.62],[7.67,4.43],[7.37,4.23],[7.44,4.23],[7.62,4.14],[7.59,4.02],[6.67,4.02],[7.4,3.51],[7.48,3.43],[7.54,3.51],[7.26,3.22],[7.32,3.22],[7.39,3.13],[7.62,3.22],[7.91,2.92],[7.09,2.99],[7.17,2.99],[7.03,2.92],[7.06,2.84],[7.31,2.92],[7.53,2.99],[7.58,2.99],[6.98,2.65],[7.14,2.7],[7.22,2.7],[7.32,2.65],[7.5,2.7],[7.62,2.67],[7.74,2.5],[7.11,2.43],[7.26,2.43],[7.45,2.43],[7.53,2.48],[7.02,2.21],[7.18,2.16],[7.43,2.21],[7.49,2.16],[7.31,2.05],[7.62,2.03],[7.69,2.03],[7.31,1.57],[7.49,1.51],[7.26,1.35],[7.71,1.03],[7.18,1.13],[7.82,1.13],[7.28,.9],[7.9,.7]];

const bodDoRed: P = [[6.46,3.6],[7.24,3.16],[8.31,2.7],[9.97,2.4],[11.5,2.11],[11.63,1.59],[11.43,1.19],[12.64,.97],[10.88,1.05],[10.65,1.25],[10.47,1.11],[10.3,.81],[10.3,.52],[10.1,.54],[5.11,1.38],[5.35,1.78],[5.65,2],[6.01,1.4],[6.33,1.19],[6.28,1.78],[6.84,.59],[6.74,.92],[7.14,.59],[7.71,.59],[7.64,.92],[8.24,.52],[8.49,.65],[8.44,2.21],[8.79,2.21],[9.04,1.46],[8.84,.7],[9.25,.92],[9.49,.7],[9.75,.92],[9.65,1.57],[9.95,1.57],[10.1,1.35],[10.25,1.19],[9.85,1.19],[9.35,1.24],[9.25,1.67],[8.44,1.67],[8.04,2.32],[7.64,2.32],[7.24,2.11],[7.04,1.67],[7.84,.7],[8.94,1.03],[9.15,.59],[8.14,.7],[7.34,1.24],[6.33,1.57],[6.5,.85],[6.6,1.6],[6.8,1.2],[6.95,.75],[7,1.9],[7.15,1],[7.3,1.6],[7.45,.75],[7.5,2],[7.55,1.2],[7.7,1.7],[7.8,1.25],[7.9,1.9],[8,.95],[8.1,1.35],[8.2,2],[8.25,.75],[8.35,1.45],[8.45,1.05],[8.55,1.7],[8.65,.85],[8.7,1.25],[8.8,1.55],[8.85,1.1],[9,1.8],[9.05,.8],[9.15,1.2],[9.25,1.5],[9.35,.8],[9.45,1.05],[9.6,.75],[9.55,1.45],[9.7,1.25],[9.85,.85],[9.95,1.35],[10.05,1],[10.2,1.5],[10.35,1.3],[7.2,.75],[9.1,2],[8.6,2.4]];
const bodDoBlue: P = [[5.02,5.92],[5.41,5.92],[4,4.21],[4.85,3.91],[5.1,3.7],[4.51,3.51],[5.33,2.6],[6.03,2.7],[10.09,2.41],[6.84,2.81],[7.41,2.21],[4.3,2],[3.57,1.61],[4.08,1.5],[5.43,1.4],[5.8,1.6],[5.76,1.21],[5.2,.9],[6.05,.52],[6.18,.52],[6.51,.59],[6.63,1.8],[6.79,.92],[7.14,.81],[7.29,1.89],[7.54,1.67],[7.74,1.84],[7.41,1.03],[7.59,1.4],[6.94,1.3],[7.14,1.24],[7.84,1.08],[8.11,1.03],[7.99,.7],[8.04,1.57],[8.29,2],[8.54,2.02],[8.14,1.62],[8.39,1.19],[8.59,1.4],[8.54,.92],[8.42,.7],[8.71,1.62],[8.89,1.21],[9.04,1.8],[8.94,2],[9.17,.52],[9.48,1.4],[9.55,1.3],[10.2,.9],[10.7,1.5],[10.9,1.3]];
const bodDoYellow: P = [[6.87,5.94],[5.8,5.74],[5.03,5.22],[4.86,4.62],[5.08,4.62],[5.48,4.83],[7.11,4.62],[6.08,4.43],[5.85,4.23],[7.56,4.23],[9.62,4.14],[6.43,4.02],[6.61,4.02],[6.53,3.51],[7.19,3.51],[5.2,3.13],[5.85,3.22],[6.43,3.22],[6.68,3.21],[8.49,3.22],[5.83,2.99],[6.53,2.99],[7.08,2.99],[7.39,3.02],[7.59,2.99],[7.79,2.92],[8.97,3.02],[9.22,2.92],[3.15,2.72],[3.82,2.72],[4.88,2.81],[5.45,2.83],[6.21,2.72],[7.04,2.75],[7.34,2.65],[3.8,2.32],[4.2,2.43],[4.83,2.61],[5.88,2.43],[6.48,2.54],[8.69,2.65],[8.84,2.48],[4.68,2.21],[4.78,2.02],[5.03,2.11],[5.63,2.43],[7.74,2.43],[7.96,2.25],[3.37,2.02],[5.48,2.03],[6.18,2.03],[6.33,2.03],[6.53,2.03],[6.99,2.11],[8.94,2.02],[6.84,1.51],[7.19,1.51],[6.23,1.4],[6.48,1.62],[5.13,1.11],[5.41,1.13],[6.28,1.3],[6.15,.92],[5.01,.73]];

// [centre x, centre y, x half-extent, y offset at the x extreme, y half-axis] in data units
const ellipsesRed: number[][][] = [
  [[18.64,.29,13.47,0,.875],[7.78,.1,1.205,0,.78],[9.08,.13,4.25,0,.71]],
  [[18.7,.087,13.1,0,.114],[7.89,.059,1.14,0,.083],[8.54,.083,3.39,0,.115]],
  [[18.9,1.55,13.1,0,1.075],[7.95,1.44,1.05,.05,.87],[8.39,1.58,3.36,-.51,1]],
  [[18.8,1.68,13.2,0,1.57],[7.87,1.34,1.04,0,1.18],[8.3,1.46,3.6,0,1.3]],
];
const ellipsesYellow: number[][][] = [
  [[18.7,1.39,13.3,-.62,1.29],[7.48,1.59,.515,.55,1.86],[6.46,1.36,3.07,0,1.33]],
  [[19.05,.208,12.4,-.01,.18],[7.5,.29,.52,.125,.277],[6.7,.211,3.13,.09,.2]],
  [[18.5,3.52,13.06,-.51,1.57],[7.29,3.27,.52,-.18,1.72],[6.28,3.47,3.16,.69,1.55]],
  [[18.8,2.79,13.06,-.68,2.2],[7.42,3.47,.51,1.17,2.51],[6.58,2.88,3.25,1,2.17]],
];

const panels: P[][][] = [
  [[nh4TempRed,nh4TempBlue,nh4TempYellow],[nh4PhRed,nh4PhBlue,nh4PhYellow],[nh4DoRed,nh4DoBlue,nh4DoYellow]],
  [[tpTempRed,tpTempBlue,tpTempYellow],[tpPhRed,tpPhBlue,tpPhYellow],[tpDoRed,tpDoBlue,tpDoYellow]],
  [[codTempRed,codTempBlue,codTempYellow],[codPhRed,codPhBlue,codPhYellow],[codDoRed,codDoBlue,codDoYellow]],
  [[bodTempRed,bodTempBlue,bodTempYellow],[bodPhRed,bodPhBlue,bodPhYellow],[bodDoRed,bodDoBlue,bodDoYellow]],
];

const xRanges = [[5,32.5],[6.5,9.27],[3,12.73]];
const yRanges = [[0,7],[0,.75],[.5,5.5],[0,7]];
const xMajor = [[5,10,15,20,25,30],[6.5,7,7.5,8,8.5,9],[4,6,8,10,12]];
const xMinor = [[7.5,12.5,17.5,22.5,27.5,32.5],[6.75,7.25,7.75,8.25,8.75,9.25],[3,5,7,9,11]];
const yMajor = [[0,1,2,3,4,5,6,7],[0,.1,.2,.3,.4,.5,.6,.7],[1,2,3,4,5],[0,2,4,6]];
const yMinor = [[.5,1.5,2.5,3.5,4.5,5.5,6.5],[.05,.15,.25,.35,.45,.55,.65,.75],[.5,1.5,2.5,3.5,4.5,5.5],[1,3,5,7]];
const yDigits = [0,1,0,0];
const xDigits = [0,1,0];

const xEdges = [60,393,726,1049];
const yEdges = [23,239,455,672,888];
const FONT = "Liberation Serif";
const INK = "#1c1c1c";
const colors = ["#FF0000","#05638f","#FFC000"];
const symbols = ["rect","circle","triangle"];
const sizes = [9.5,11,13];

const yTitles = [
  { text: "NH{s|4}-N (mg·L{u|−1})", x: 32, y: 108 },
  { text: "TP (mg·L{u|−1})", x: 15, y: 355 },
  { text: "COD{s|Mn} (mg·L{u|−1})", x: 32, y: 571 },
  { text: "BOD{s|5} (mg·L{u|−1})", x: 32, y: 779 },
];
const xTitles = [
  { text: "Temperature (°C)", x: 226 },
  { text: "pH", x: 559 },
  { text: "DO (mg·L{u|−1})", x: 896 },
];

function ellipseSeries(p: number[], color: string, xi: number, yi: number, z: number) {
  return {
    type: "custom", coordinateSystem: "cartesian2d", xAxisIndex: xi, yAxisIndex: yi,
    z, silent: true, clip: false, data: [p],
    renderItem: (_: any, api: any) => {
      const [cx, cy, ex, dy, w] = [0,1,2,3,4].map((i) => api.value(i));
      const pts: number[][] = [];
      for (let k = 0; k <= 90; k++) {
        const t = (k / 90) * Math.PI * 2;
        pts.push(api.coord([cx + ex * Math.cos(t), cy + dy * Math.cos(t) + w * Math.sin(t)]));
      }
      return { type: "polyline", shape: { points: pts }, style: { fill: "none", stroke: color, lineWidth: 2.7, lineDash: [11,7] } };
    },
  };
}

function buildOption() {
  const grid: any[] = [], xAxis: any[] = [], yAxis: any[] = [], series: any[] = [];
  const line = { lineStyle: { color: INK, width: 1.5 } };
  const axisBase = { type: "value", splitLine: { show: false }, silent: true };
  for (let r = 0; r < 4; r++) {
    for (let c = 0; c < 3; c++) {
      const g = grid.length;
      grid.push({ left: xEdges[c], width: xEdges[c+1]-xEdges[c], top: yEdges[r], height: yEdges[r+1]-yEdges[r], containLabel: false });
      const xb = { ...axisBase, gridIndex: g, min: xRanges[c][0], max: xRanges[c][1] };
      const yb = { ...axisBase, gridIndex: g, min: yRanges[r][0], max: yRanges[r][1] };
      const xi = xAxis.length, yi = yAxis.length;
      const out = r === 3;
      xAxis.push({ ...xb, position: "bottom", axisLine: { show: true, onZero: false, ...line },
        axisTick: { show: true, inside: !out, length: out ? 7 : 5, customValues: xMajor[c], ...line },
        axisLabel: { show: out, customValues: xMajor[c], margin: 6, color: INK, fontFamily: FONT, fontSize: 17, hideOverlap: false,
          formatter: (v: number) => v.toFixed(xDigits[c]) } });
      xAxis.push({ ...xb, position: "bottom", axisLine: { show: false },
        axisTick: { show: true, inside: !out, length: 4, customValues: xMinor[c], ...line }, axisLabel: { show: false } });
      if (r > 0) {
        xAxis.push({ ...xb, position: "top", axisLine: { show: false },
          axisTick: { show: true, inside: true, length: 6, customValues: xMajor[c], ...line }, axisLabel: { show: false } });
        xAxis.push({ ...xb, position: "top", axisLine: { show: false },
          axisTick: { show: true, inside: true, length: 4, customValues: xMinor[c], ...line }, axisLabel: { show: false } });
      }
      const lab = c === 0;
      yAxis.push({ ...yb, position: "left", axisLine: { show: true, onZero: false, ...line },
        axisTick: { show: lab, inside: false, length: 7, customValues: yMajor[r], ...line },
        axisLabel: { show: lab, customValues: yMajor[r], margin: 4, color: INK, fontFamily: FONT, fontSize: 17,
          formatter: (v: number) => v.toFixed(yDigits[r]) } });
      if (lab) {
        yAxis.push({ ...yb, position: "left", axisLine: { show: false },
          axisTick: { show: true, inside: false, length: 4, customValues: yMinor[r], ...line }, axisLabel: { show: false } });
      }
      if (c < 2) {
        yAxis.push({ ...yb, position: "right", axisLine: { show: false },
          axisTick: { show: true, inside: true, length: 5, customValues: yMajor[r], ...line }, axisLabel: { show: false } });
        yAxis.push({ ...yb, position: "right", axisLine: { show: false },
          axisTick: { show: true, inside: true, length: 4, customValues: yMinor[r], ...line }, axisLabel: { show: false } });
      }
      panels[r][c].forEach((pts, k) => {
        series.push({ type: "scatter", name: rivers[k], xAxisIndex: xi, yAxisIndex: yi, data: pts, symbol: symbols[k],
          symbolSize: sizes[k], itemStyle: { color: colors[k], opacity: 1 }, z: 2 + k * 0.1, silent: true });
      });
      series.push(ellipseSeries(ellipsesRed[r][c], "#F2102A", xi, yi, 3));
      series.push(ellipseSeries(ellipsesYellow[r][c], "#FFC000", xi, yi, 3.1));
    }
  }
  const base = { fontFamily: FONT, fontSize: 17, fill: INK };
  const rich = {
    s: { fontFamily: FONT, fontSize: 11, fill: INK, verticalAlign: "bottom" },
    u: { fontFamily: FONT, fontSize: 11, fill: INK, verticalAlign: "top" },
  };
  const graphic: any[] = [
    ...yTitles.map((t) => ({ type: "text", x: t.x, y: t.y, rotation: Math.PI / 2, z: 10, silent: true,
      style: { ...base, text: t.text, rich, align: "center", verticalAlign: "middle", lineHeight: 18 } })),
    ...xTitles.map((t) => ({ type: "text", x: t.x, y: 920, z: 10, silent: true,
      style: { ...base, text: t.text, rich, align: "center", verticalAlign: "middle", lineHeight: 18 } })),
  ];
  return {
    animation: false,
    backgroundColor: "#fff",
    grid, xAxis, yAxis, series, graphic,
    tooltip: { show: false },
    legend: {
      show: true, orient: "vertical", left: 552, top: 20, z: 20,
      data: rivers, selectedMode: false, backgroundColor: "#fff",
      borderColor: "#7f7f7f", borderWidth: 1, padding: [3, 3, 3, 18],
      itemWidth: 10, itemHeight: 10, itemGap: 2,
      textStyle: { fontFamily: FONT, fontSize: 18, color: INK, lineHeight: 20.5, padding: [0, 0, 0, 15] },
    },
  };
}

export default function App() {
  const ref = useRef<HTMLDivElement>(null);
  useEffect(() => {
    document.body.style.margin = "0";
    const chart = echarts.init(ref.current!, undefined, { renderer: "svg" });
    chart.setOption(buildOption() as any);
    return () => chart.dispose();
  }, []);
  return <div ref={ref} style={{ width: 1049, height: 929 }} />;
}
